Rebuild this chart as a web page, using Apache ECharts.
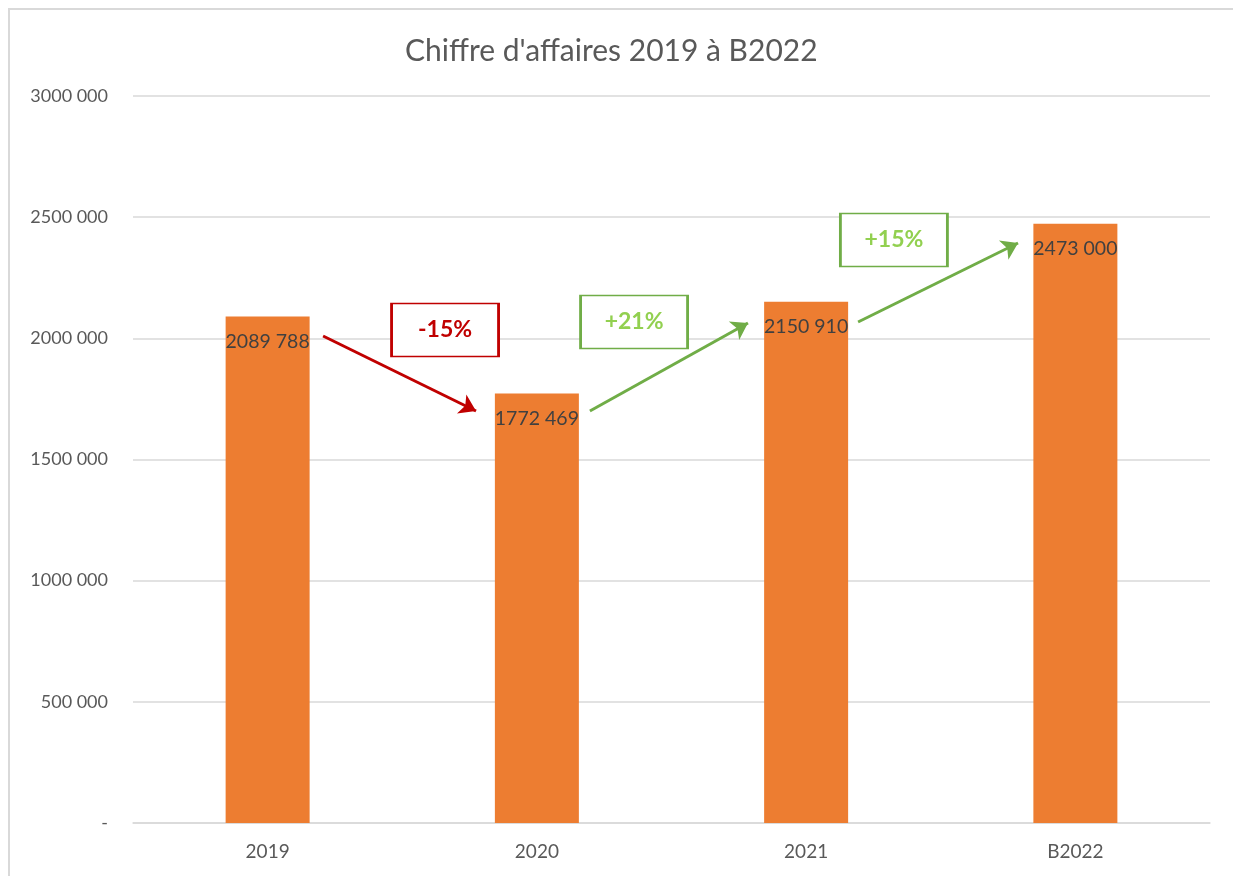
<!DOCTYPE html>
<html>
<head>
<meta charset="utf-8">
<title>Chiffre d'affaires</title>
<script src="https://cdn.jsdelivr.net/npm/echarts@6/dist/echarts.min.js"></script>
<style>
  html, body { margin: 0; padding: 0; background: #fff; }
  #chart { width: 1233px; height: 876px; }
</style>
</head>
<body>
<div id="chart"></div>
<script>
// données du graphique
const categories = ['2019', '2020', '2021', 'B2022']
const revenue = [2089788, 1772469, 2150910, 2473000]
const yTicks = [0, 500000, 1000000, 1500000, 2000000, 2500000, 3000000]
const changes = ['-15%', '+21%', '+15%']

// annotations (flèches + encadrés), en coordonnées du repère : x = index catégorie, y = valeur
const arrows = [
  { from: [0.206, 2009600], to: [0.774, 1700100], color: '#C00000' },
  { from: [1.197, 1700100], to: [1.784, 2063300], color: '#70AD47' },
  { from: [2.193, 2067400], to: [2.787, 2393400], color: '#70AD47' }
]
const boxes = [
  { at: [0.659, 2034400], border: '#C00000', text: '#C00000' },
  { at: [1.361, 2067400], border: '#70AD47', text: '#92D050' },
  { at: [2.326, 2405700], border: '#70AD47', text: '#92D050' }
]

const font = 'Lato, "Open Sans", sans-serif'

function fmt(v) {
  if (v === 0) return '-'
  const k = Math.floor(v / 1000)
  const r = String(v % 1000).padStart(3, '0')
  return k + ' ' + r
}

const chart = echarts.init(document.getElementById('chart'))
chart.setOption({
  animation: false,
  textStyle: { fontFamily: font },
  title: {
    text: "Chiffre d'affaires 2019 à B2022",
    left: 400,
    top: 31,
    textStyle: { color: '#595959', fontSize: 30, fontWeight: 'normal', fontFamily: font }
  },
  graphic: [{
    type: 'polyline',
    shape: { points: [[9, 900], [9, 9], [1240, 9]] },
    style: { stroke: '#d9d9d9', lineWidth: 2, fill: null }
  }],
  grid: { left: 133, right: 23, top: 96, bottom: 53 },
  xAxis: [{
    type: 'category',
    data: categories,
    axisLine: { lineStyle: { color: '#d9d9d9', width: 1.5 } },
    axisTick: { show: false },
    axisLabel: { color: '#595959', fontSize: 19, margin: 19, fontFamily: font }
  }, {
    type: 'value',
    min: -0.5,
    max: 3.5,
    show: false
  }],
  yAxis: {
    type: 'value',
    min: 0,
    max: yTicks[yTicks.length - 1],
    interval: yTicks[1] - yTicks[0],
    axisLine: { show: false },
    axisTick: { show: false },
    splitLine: { lineStyle: { color: '#d9d9d9', width: 1.5 } },
    axisLabel: { color: '#595959', fontSize: 18, margin: 25, formatter: fmt, fontFamily: font }
  },
  series: [{
    type: 'bar',
    data: revenue,
    barWidth: 84,
    itemStyle: { color: '#ED7D31' },
    label: {
      show: true,
      position: 'insideTop',
      distance: 15,
      color: '#404040',
      fontSize: 19.5,
      fontFamily: font,
      formatter: p => fmt(p.value)
    }
  }, {
    type: 'scatter',
    xAxisIndex: 1,
    symbol: 'rect',
    symbolSize: [107, 53],
    silent: true,
    z: 5,
    data: boxes.map((b, i) => ({
      value: b.at,
      itemStyle: { color: '#fff', borderColor: b.border, borderWidth: 2, opacity: 1 },
      label: {
        show: true,
        position: 'inside',
        formatter: changes[i],
        color: b.text,
        fontSize: 23,
        fontWeight: 'bold',
        fontFamily: font
      }
    })),
    markLine: {
      silent: true,
      symbol: ['none', 'arrow'],
      symbolSize: 16,
      label: { show: false },
      data: arrows.map(a => [
        { coord: a.from, lineStyle: { color: a.color, width: 3, type: 'solid', opacity: 1 } },
        { coord: a.to }
      ])
    }
  }]
})
</script>
</body>
</html>
